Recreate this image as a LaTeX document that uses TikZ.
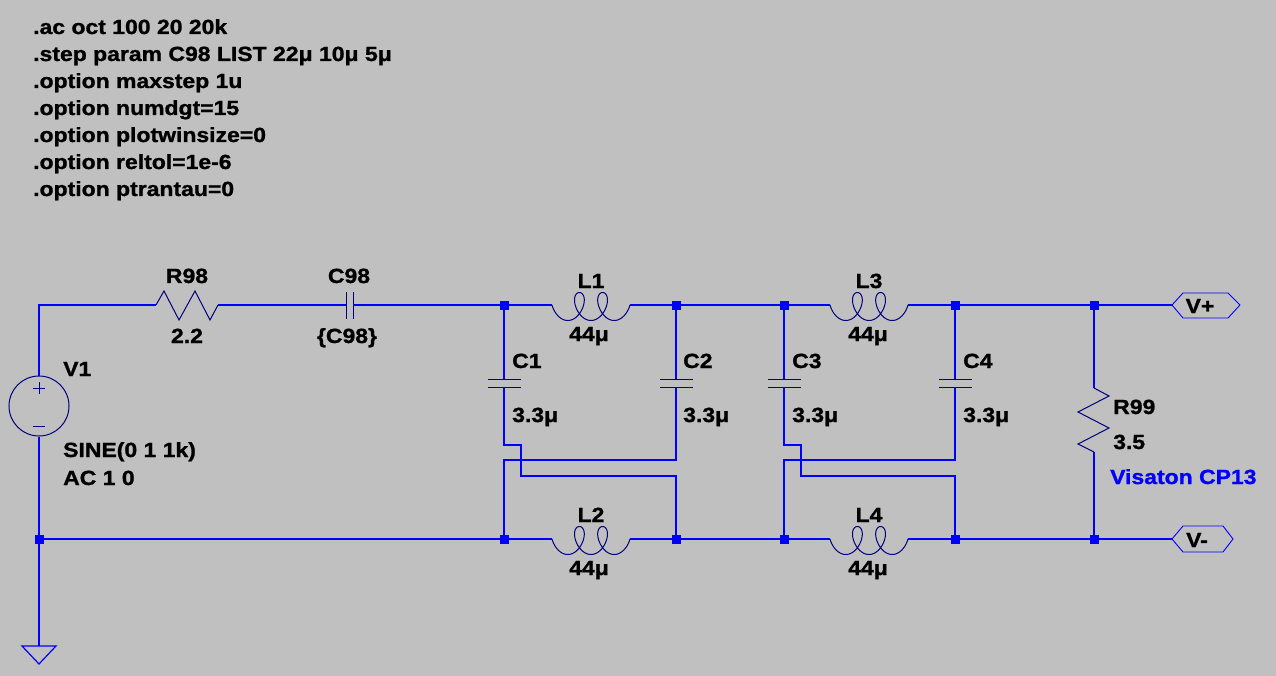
\documentclass[tikz,border=0pt]{standalone}
\usepackage{fontspec}
\setmainfont[FakeStretch=1.12, BoldFeatures={FakeBold=1.2}]{Liberation Sans}
\usetikzlibrary{positioning}
\usetikzlibrary{calc}
\definecolor{schbg}{RGB}{192,192,192}
\definecolor{wireblue}{RGB}{0,0,255}
\definecolor{partnavy}{RGB}{0,0,128}
\tikzset{
    wire/.style={draw=wireblue, line width=1.2pt},
    part/.style={draw=partnavy, line width=1pt},
    flag/.style={draw=wireblue, line width=0.9pt},
    junction/.style={rectangle, fill=wireblue, draw=none, minimum size=9pt, inner sep=0pt},
    lbl/.style={font=\bfseries\fontsize{20.5}{24}\selectfont, inner sep=0pt, text=black},
    netlbl/.style={lbl, text=wireblue},
    pics/coilsym/.style={code={
        \draw[part] plot[domain=90:990, samples=180, smooth] ({0.0644*(\x-90)-10*(sin(\x)-1)}, {-14*cos(\x)+1.5*cos(\x)*cos(\x)});
    }},
}

\begin{document}
\begin{tikzpicture}[x=1pt, y=-1pt]
\fill[schbg] (0,0) rectangle (1276,676);
\useasboundingbox (0,0) rectangle (1276,676);
% directives
\node[lbl, anchor=base west] (d1) at (33,34) {.ac oct 100 20 20k};
\node[lbl, anchor=base west] (d2) at (33,61) {.step param C98 LIST 22μ 10μ 5μ};
\node[lbl, anchor=base west] (d3) at (33,88) {.option maxstep 1u};
\node[lbl, anchor=base west] (d4) at (33,115) {.option numdgt=15};
\node[lbl, anchor=base west] (d5) at (33,142) {.option plotwinsize=0};
\node[lbl, anchor=base west] (d6) at (33,169) {.option reltol=1e-6};
\node[lbl, anchor=base west] (d7) at (33,196) {.option ptrantau=0};
% nets
\coordinate (tl) at (39,305);
\coordinate (R98a) at (156,305);
\coordinate (R98b) at (218,305);
\coordinate (C98a) at (346,305);
\coordinate (C98b) at (353,305);
\coordinate (n1) at (504,305);
\coordinate (n2) at (676,305);
\coordinate (n3) at (784,305);
\coordinate (n4) at (955,305);
\coordinate (n5) at (1094,305);
\coordinate (m0) at (39,539);
\coordinate (m1) at (504,539);
\coordinate (m2) at (676,539);
\coordinate (m3) at (784,539);
\coordinate (m4) at (955,539);
\coordinate (m5) at (1094,539);
\coordinate (L1a) at (552,305);
\coordinate (L1b) at (630,305);
\coordinate (L3a) at (830,305);
\coordinate (L3b) at (908,305);
\coordinate (L2a) at (552,539);
\coordinate (L2b) at (630,539);
\coordinate (L4a) at (830,539);
\coordinate (L4b) at (908,539);
\coordinate (C1p) at (504,379);
\coordinate (C1m) at (504,387);
\coordinate (C2p) at (676,379);
\coordinate (C2m) at (676,387);
\coordinate (C3p) at (784,379);
\coordinate (C3m) at (784,387);
\coordinate (C4p) at (955,379);
\coordinate (C4m) at (955,387);
\coordinate (R99a) at (1094,388);
\coordinate (R99b) at (1094,452);
\coordinate (gnd) at (39,646);
\coordinate (vp) at (1172,305);
\coordinate (vm) at (1172,539);
% V1
\node[circle, part, minimum size=60pt, inner sep=0pt] (V1) at (39,406) {};
\draw[part] (33,388) -- (45,388) (39,382) -- (39,394);
\draw[part] (33,426) -- (45,426);
\node[lbl, anchor=base west] (V1name) at (63,376) {V1};
\node[lbl, anchor=base west] (V1val) at (63,457) {SINE(0 1 1k)};
\node[lbl, anchor=base west] (V1ac) at (63,485) {AC 1 0};
\draw[wire] (V1.north) -- (tl) -- (R98a);
\draw[wire] (V1.south) -- (m0) -- (gnd);
\draw[wire] (gnd) -- (22,646) -- (39,664) -- (56,646) -- cycle;
% R98, C98
\draw[part] (R98a) -- ++(8,-14) -- ++(15,29) -- ++(16,-29) -- ++(15,29) -- (R98b);
\node[lbl, anchor=base] (R98name) at (187,283) {R98};
\node[lbl, anchor=base] (R98val) at (187,343) {2.2};
\draw[wire] (R98b) -- (C98a);
\draw[part] (346,292) -- (346,319) (353,292) -- (353,319);
\node[lbl, anchor=base] (C98name) at (349,283) {C98};
\node[lbl, anchor=base] (C98val) at (347,343) {\{C98\}};
% top rail
\draw[wire] (C98b) -- (n1) -- (L1a);
\draw (L1a) pic {coilsym};
\draw[wire] (L1b) -- (n2) -- (n3) -- (L3a);
\draw (L3a) pic {coilsym};
\draw[wire] (L3b) -- (n4) -- (n5) -- (vp);
\node[lbl, anchor=base] (L1name) at (591,288) {L1};
\node[lbl, anchor=base] (L1val) at (589,341) {44μ};
\node[lbl, anchor=base] (L3name) at (869,288) {L3};
\node[lbl, anchor=base] (L3val) at (868,341) {44μ};
% bottom rail
\draw[wire] (m0) -- (m1) -- (L2a);
\draw (L2a) pic {coilsym};
\draw[wire] (L2b) -- (m2) -- (m3) -- (L4a);
\draw (L4a) pic {coilsym};
\draw[wire] (L4b) -- (m4) -- (m5) -- (vm);
\node[lbl, anchor=base] (L2name) at (591,522) {L2};
\node[lbl, anchor=base] (L2val) at (589,575) {44μ};
\node[lbl, anchor=base] (L4name) at (869,522) {L4};
\node[lbl, anchor=base] (L4val) at (868,575) {44μ};
% C1 .. C4
\draw[wire] (n1) -- (C1p);
\draw[part] ($(C1p)+(-16,0)$) -- ($(C1p)+(17,0)$) ($(C1m)+(-16,0)$) -- ($(C1m)+(17,0)$);
\draw[wire] (C1m) -- (504,445) -- (521,445) -- (521,476) -| (m2);
\draw[wire] (n2) -- (C2p);
\draw[part] ($(C2p)+(-16,0)$) -- ($(C2p)+(17,0)$) ($(C2m)+(-16,0)$) -- ($(C2m)+(17,0)$);
\draw[wire] (C2m) -- (676,460) -| (m1);
\draw[wire] (n3) -- (C3p);
\draw[part] ($(C3p)+(-16,0)$) -- ($(C3p)+(17,0)$) ($(C3m)+(-16,0)$) -- ($(C3m)+(17,0)$);
\draw[wire] (C3m) -- (784,445) -- (801,445) -- (801,476) -| (m4);
\draw[wire] (n4) -- (C4p);
\draw[part] ($(C4p)+(-16,0)$) -- ($(C4p)+(17,0)$) ($(C4m)+(-16,0)$) -- ($(C4m)+(17,0)$);
\draw[wire] (C4m) -- (955,460) -| (m3);
\node[lbl, anchor=base west] (C1name) at (512,368) {C1};
\node[lbl, anchor=base west] (C1val) at (512,422) {3.3μ};
\node[lbl, anchor=base west] (C2name) at (683,368) {C2};
\node[lbl, anchor=base west] (C2val) at (683,422) {3.3μ};
\node[lbl, anchor=base west] (C3name) at (792,368) {C3};
\node[lbl, anchor=base west] (C3val) at (792,422) {3.3μ};
\node[lbl, anchor=base west] (C4name) at (963,368) {C4};
\node[lbl, anchor=base west] (C4val) at (963,422) {3.3μ};
% load
\draw[wire] (n5) -- (R99a);
\draw[part] (R99a) -- ++(15,8) -- ++(-31,16) -- ++(31,16) -- ++(-31,16) -- (R99b);
\draw[wire] (R99b) -- (m5);
\node[lbl, anchor=base west] (R99name) at (1113,414) {R99};
\node[lbl, anchor=base west] (R99val) at (1113,449) {3.5};
\node[netlbl, anchor=base west] (R99note) at (1110,484) {Visaton CP13};
% flags
\draw[flag] (vp) -- ++(11,-12) -- ++(45,0) -- ++(12,12) -- ++(-12,13) -- ++(-45,0) -- cycle;
\node[lbl, anchor=base] (vpname) at (1200,313) {V+};
\draw[flag] (vm) -- ++(11,-13) -- ++(40,0) -- ++(10,13) -- ++(-10,13) -- ++(-40,0) -- cycle;
\node[lbl, anchor=base] (vmname) at (1197,547) {V-};
% junctions
\node[junction] (j1) at (n1) {};
\node[junction] (j2) at (n2) {};
\node[junction] (j3) at (n3) {};
\node[junction] (j4) at (n4) {};
\node[junction] (j5) at (n5) {};
\node[junction] (k0) at (m0) {};
\node[junction] (k1) at (m1) {};
\node[junction] (k2) at (m2) {};
\node[junction] (k3) at (m3) {};
\node[junction] (k4) at (m4) {};
\node[junction] (k5) at (m5) {};
\end{tikzpicture}
\end{document}
